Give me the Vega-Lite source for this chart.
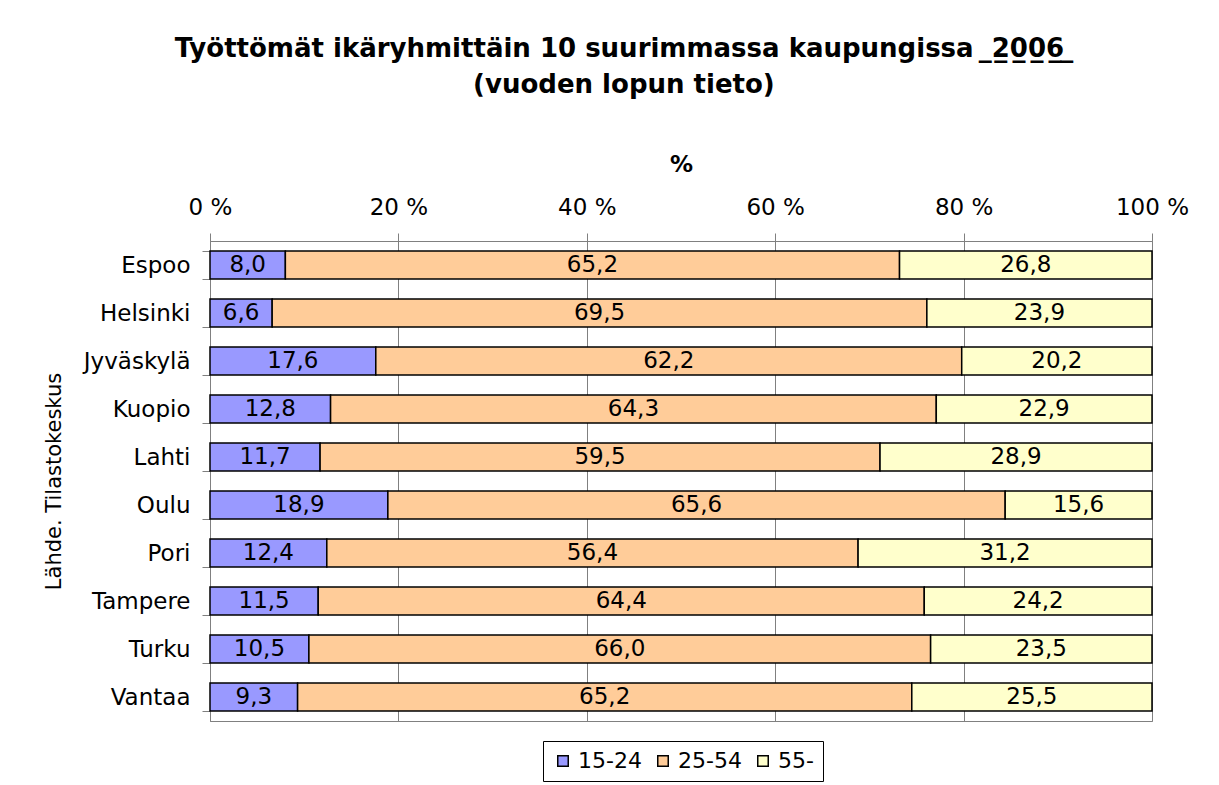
{
  "$schema": "https://vega.github.io/schema/vega-lite/v6.json",
  "width": 942,
  "height": 480,
  "padding": {"left": 43, "top": 36, "right": 10, "bottom": 2},
  "title": {
    "text": ["Työttömät ikäryhmittäin 10 suurimmassa kaupungissa \u00a0\u03322\u03320\u03320\u03326\u0332\u00a0\u0332", "(vuoden lopun tieto)"],
    "font": "DejaVu Sans",
    "fontSize": 26,
    "fontWeight": "bold",
    "lineHeight": 36,
    "frame": "bounds",
    "anchor": "middle",
    "color": "black",
    "offset": 55,
    "dx": 8
  },
  "data": {
    "values": [
      {"city": "Espoo", "age": "15-24", "value": 8.0},
      {"city": "Espoo", "age": "25-54", "value": 65.2},
      {"city": "Espoo", "age": "55-", "value": 26.8},
      {"city": "Helsinki", "age": "15-24", "value": 6.6},
      {"city": "Helsinki", "age": "25-54", "value": 69.5},
      {"city": "Helsinki", "age": "55-", "value": 23.9},
      {"city": "Jyväskylä", "age": "15-24", "value": 17.6},
      {"city": "Jyväskylä", "age": "25-54", "value": 62.2},
      {"city": "Jyväskylä", "age": "55-", "value": 20.2},
      {"city": "Kuopio", "age": "15-24", "value": 12.8},
      {"city": "Kuopio", "age": "25-54", "value": 64.3},
      {"city": "Kuopio", "age": "55-", "value": 22.9},
      {"city": "Lahti", "age": "15-24", "value": 11.7},
      {"city": "Lahti", "age": "25-54", "value": 59.5},
      {"city": "Lahti", "age": "55-", "value": 28.9},
      {"city": "Oulu", "age": "15-24", "value": 18.9},
      {"city": "Oulu", "age": "25-54", "value": 65.6},
      {"city": "Oulu", "age": "55-", "value": 15.6},
      {"city": "Pori", "age": "15-24", "value": 12.4},
      {"city": "Pori", "age": "25-54", "value": 56.4},
      {"city": "Pori", "age": "55-", "value": 31.2},
      {"city": "Tampere", "age": "15-24", "value": 11.5},
      {"city": "Tampere", "age": "25-54", "value": 64.4},
      {"city": "Tampere", "age": "55-", "value": 24.2},
      {"city": "Turku", "age": "15-24", "value": 10.5},
      {"city": "Turku", "age": "25-54", "value": 66.0},
      {"city": "Turku", "age": "55-", "value": 23.5},
      {"city": "Vantaa", "age": "15-24", "value": 9.3},
      {"city": "Vantaa", "age": "25-54", "value": 65.2},
      {"city": "Vantaa", "age": "55-", "value": 25.5}
    ]
  },
  "transform": [
    {"stack": "value", "groupby": ["city"], "offset": "normalize", "sort": [{"field": "age", "order": "ascending"}], "as": ["x0", "x1"]},
    {"calculate": "(datum.x0 + datum.x1) / 2", "as": "xmid"}
  ],
  "encoding": {
    "y": {
      "field": "city",
      "type": "nominal",
      "sort": null,
      "scale": {"paddingInner": 0.42, "paddingOuter": 0.21},
      "axis": {
        "title": "Lähde. Tilastokeskus",
        "titleFont": "DejaVu Sans",
        "titleFontSize": 21,
        "titleFontWeight": "normal",
        "titleColor": "black",
        "titlePadding": 19,
        "labelFont": "DejaVu Sans",
        "labelFontSize": 23,
        "labelColor": "black",
        "labelPadding": 12,
        "tickBand": "extent",
        "tickSize": 8,
        "tickColor": "#808080",
        "domainColor": "#808080"
      }
    }
  },
  "layer": [
    {
      "mark": {"type": "bar", "stroke": "black", "strokeWidth": 1.5},
      "encoding": {
        "x": {
          "field": "x0",
          "type": "quantitative",
          "scale": {"domain": [0, 1], "nice": false},
          "axis": {
            "orient": "top",
            "title": "%",
            "titleFont": "DejaVu Sans",
            "titleFontSize": 23,
            "titleFontWeight": "bold",
            "titleColor": "black",
            "titlePadding": 20,
            "labelFont": "DejaVu Sans",
            "labelFontSize": 23,
            "labelColor": "black",
            "labelPadding": 14,
            "labelFlush": false,
            "values": [0, 0.2, 0.4, 0.6, 0.8, 1],
            "labelExpr": "format(datum.value * 100, 'd') + ' %'",
            "tickSize": 8,
            "tickColor": "#808080",
            "domainColor": "#808080",
            "grid": true,
            "gridColor": "#808080",
            "gridWidth": 1
          }
        },
        "x2": {"field": "x1"},
        "color": {
          "field": "age",
          "type": "nominal",
          "scale": {"domain": ["15-24", "25-54", "55-"], "range": ["#9999FF", "#FFCC99", "#FFFFCC"]},
          "legend": {
            "title": null,
            "orient": "none",
            "legendX": 333,
            "legendY": 500,
            "direction": "horizontal",
            "strokeColor": "black",
            "padding": 9,
            "symbolType": "square",
            "symbolSize": 110,
            "symbolStrokeColor": "black",
            "symbolStrokeWidth": 1.5,
            "symbolOpacity": 1,
            "labelFont": "DejaVu Sans",
            "labelFontSize": 22,
            "labelColor": "black",
            "columnPadding": 10
          }
        }
      }
    },
    {
      "mark": {"type": "text", "font": "DejaVu Sans", "fontSize": 23, "color": "black"},
      "encoding": {
        "x": {"field": "xmid", "type": "quantitative"},
        "text": {"field": "value", "type": "quantitative", "format": ".1f"}
      }
    }
  ],
  "config": {
    "view": {"stroke": "#808080"},
    "locale": {"number": {"decimal": ",", "thousands": " ", "grouping": [3], "currency": ["", " €"]}}
  }
}
